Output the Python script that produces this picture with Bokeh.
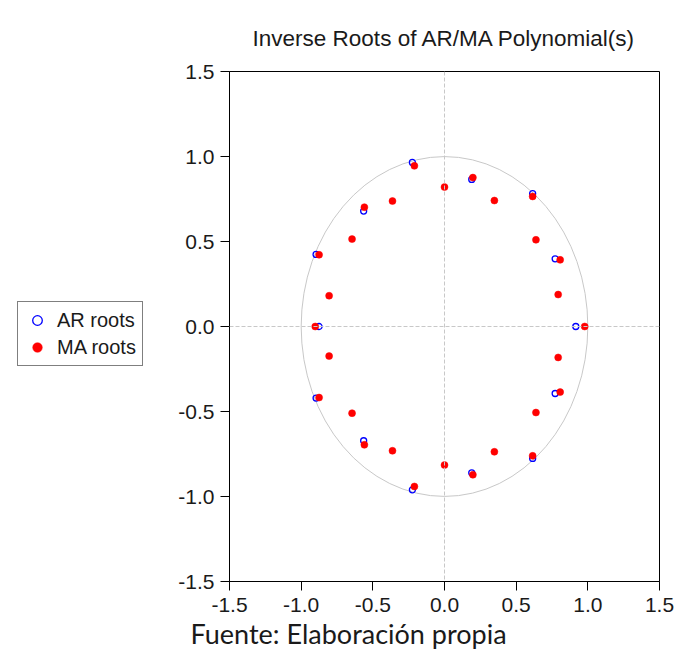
from bokeh.plotting import figure
from bokeh.layouts import row
from bokeh.models import (Range1d, FixedTicker, PrintfTickFormatter, Span, Legend,
                          LegendItem, Title)
from bokeh.embed import file_html
from bokeh.resources import INLINE

# ---- data ----
ar_x = [0.916, 0.615, 0.615, 0.772, 0.772, 0.190, 0.190, -0.224, -0.224,
        -0.564, -0.564, -0.896, -0.896, -0.875]
ar_y = [0.0, 0.782, -0.776, 0.398, -0.394, 0.865, -0.861, 0.965, -0.961,
        0.679, -0.672, 0.424, -0.421, 0.0]

ma_x = [0.978, 0.793, 0.793, 0.807, 0.807, 0.638, 0.638, 0.615, 0.615,
        0.348, 0.348, 0.198, 0.198, 0.0, 0.0, -0.210, -0.210, -0.363, -0.363,
        -0.559, -0.559, -0.645, -0.645, -0.805, -0.805, -0.875, -0.875, -0.902]
ma_y = [0.0, 0.188, -0.182, 0.392, -0.386, 0.510, -0.506, 0.765, -0.761,
        0.741, -0.737, 0.876, -0.872, 0.820, -0.815, 0.945, -0.941, 0.738, -0.731,
        0.702, -0.696, 0.514, -0.510, 0.181, -0.174, 0.422, -0.418, 0.0]

tick_vals = [-1.5, -1.0, -0.5, 0.0, 0.5, 1.0, 1.5]
title_text = "Inverse Roots of AR/MA Polynomial(s)"
source_text = "Fuente: Elaboración propia"
series_names = ["AR roots", "MA roots"]

FONT = "Liberation Sans"
LEG_W = 175
MAIN_W = 505
H = 654


def marks(fig):
    r1 = fig.scatter(ar_x, ar_y, marker="circle", size=6, fill_color=None,
                     line_color="blue", line_width=1.3)
    r2 = fig.scatter(ma_x, ma_y, marker="circle", size=7, fill_color="red",
                     line_color="red", line_width=0.5)
    return r1, r2


# ---------------- main chart ----------------
p = figure(width=MAIN_W, height=H, output_backend="svg", toolbar_location=None,
           x_range=Range1d(-1.5, 1.5), y_range=Range1d(-1.5, 1.5),
           min_border_left=52, min_border_right=21, min_border_top=71,
           min_border_bottom=H - 581, background_fill_color="white",
           border_fill_color="white")

p.title.text = title_text
p.title.align = "center"
p.title.text_font = FONT
p.title.text_font_size = "22.5px"
p.title.text_font_style = "normal"
p.title.text_color = "#1a1a1a"
p.title.standoff = 42

p.outline_line_color = "black"
p.outline_line_width = 1
p.grid.visible = False

for ax in (p.xaxis[0], p.yaxis[0]):
    ax.ticker = FixedTicker(ticks=tick_vals)
    ax.formatter = PrintfTickFormatter(format="%.1f")
    ax.major_tick_out = 9
    ax.major_tick_in = 0
    ax.minor_tick_line_color = None
    ax.axis_line_color = "black"
    ax.major_tick_line_color = "black"
    ax.major_label_text_font = FONT
    ax.major_label_text_font_size = "21px"
    ax.major_label_text_color = "#1a1a1a"
p.xaxis.major_label_standoff = 7
p.yaxis.major_label_standoff = 6

p.add_layout(Span(location=0, dimension="height", line_color="#c8c8c8",
                  line_dash="4 2", line_width=1))
p.add_layout(Span(location=0, dimension="width", line_color="#c8c8c8",
                  line_dash="4 2", line_width=1))

p.ellipse(x=0, y=0, width=2, height=2, fill_color=None, line_color="#c8c8c8",
          line_width=1)
marks(p)

p.add_layout(Title(text=source_text, align="left", offset=188 - LEG_W - 52,
                   text_font="Lato", text_font_size="27px",
                   text_font_style="normal", text_color="#1a1a1a",
                   standoff=0), "below")

# ---------------- legend panel (left) ----------------
lg = figure(width=LEG_W, height=H, output_backend="svg", toolbar_location=None,
            x_axis_type=None, y_axis_type=None,
            x_range=Range1d(5, 6), y_range=Range1d(5, 6), min_border=0,
            background_fill_color="white", border_fill_color="white",
            outline_line_color=None)
lg.grid.visible = False
l_ar, l_ma = marks(lg)
legend = Legend(items=[LegendItem(label=series_names[0], renderers=[l_ar]),
                       LegendItem(label=series_names[1], renderers=[l_ma])],
                location=(17, 581 - 366), orientation="vertical",
                label_text_font=FONT, label_text_font_size="20px",
                label_text_color="#1a1a1a",
                glyph_width=26, glyph_height=24, label_standoff=7,
                label_height=24, spacing=3, padding=6, margin=0,
                border_line_color="black", border_line_width=1,
                background_fill_color="white")
lg.add_layout(legend, "center")

layout = row(lg, p, spacing=0)
open("out.html", "w").write(file_html(layout, INLINE))
